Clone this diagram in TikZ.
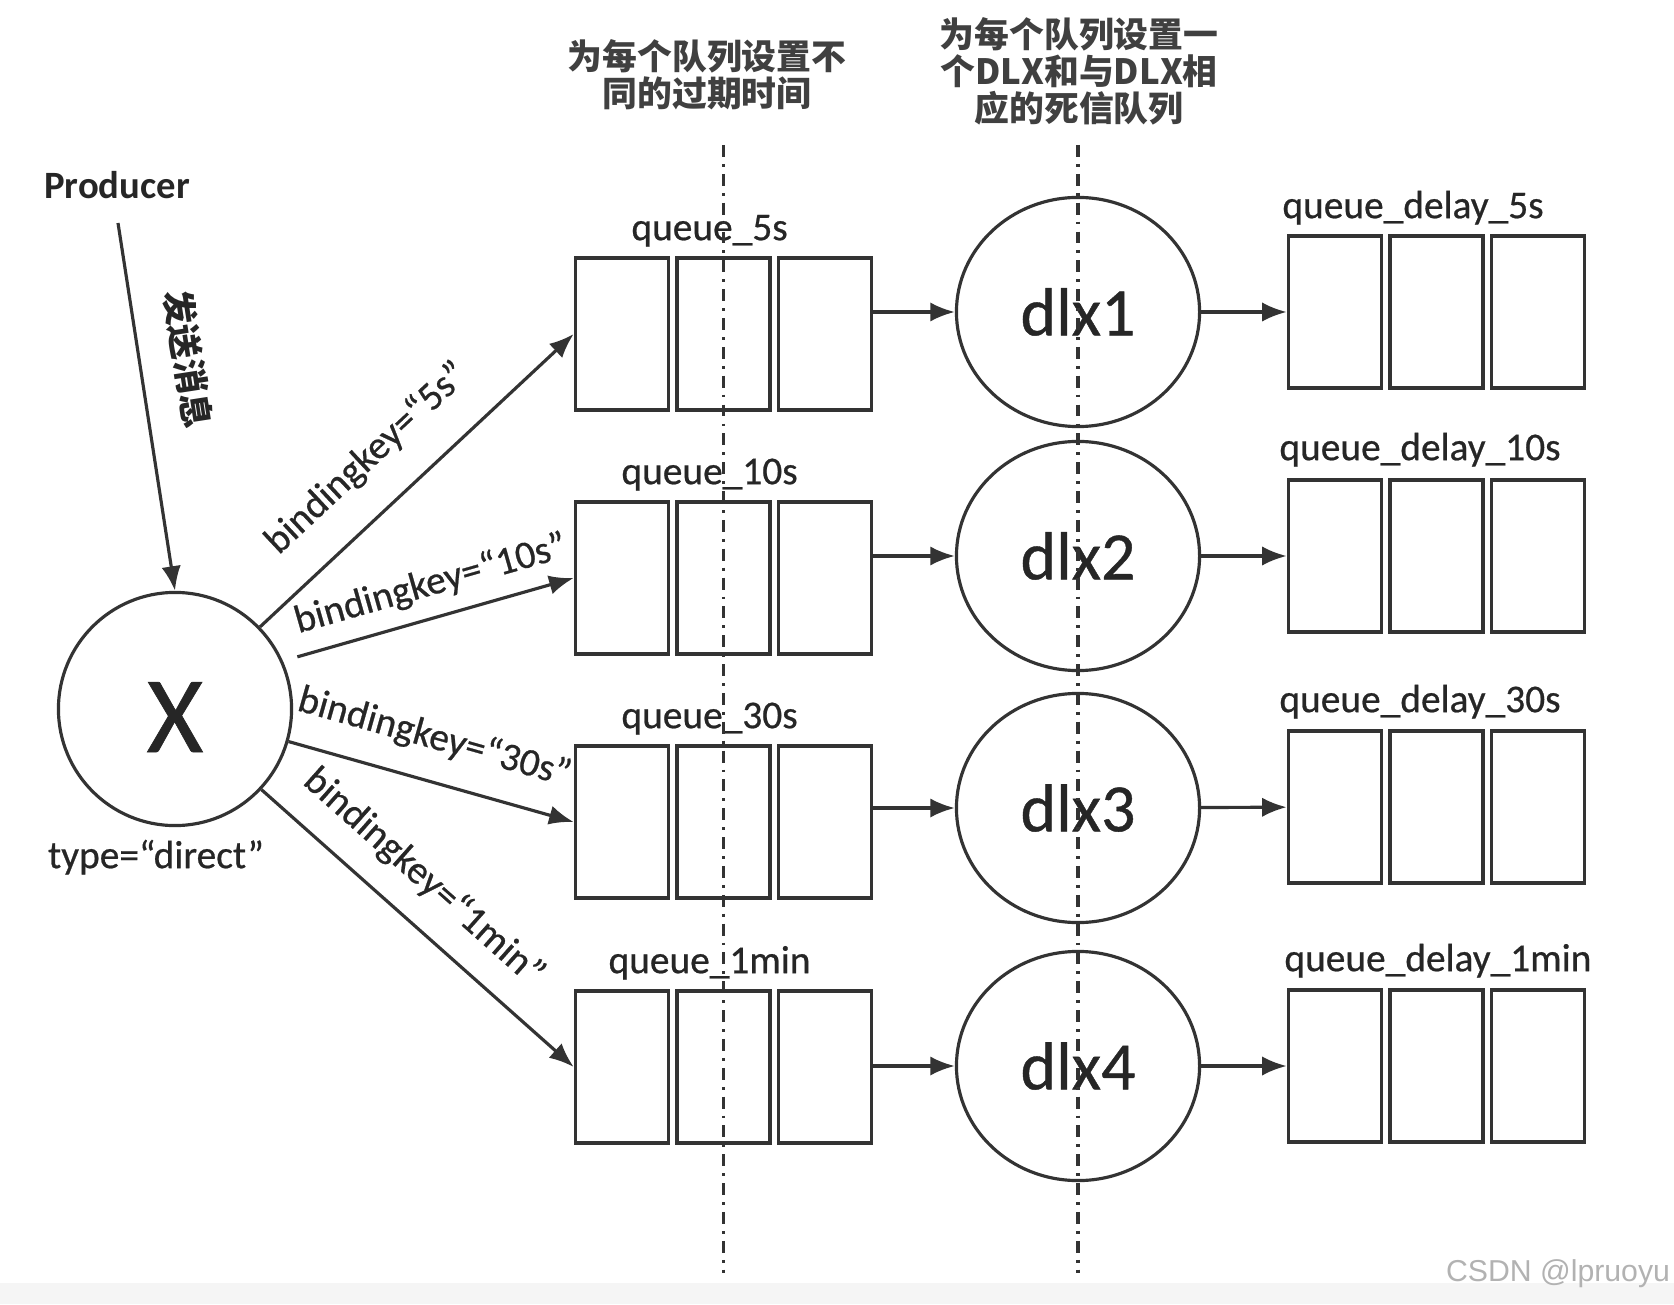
\documentclass[tikz,border=0pt]{standalone}
\usepackage{fontspec}
\setmainfont{Carlito}[UprightFeatures={FakeBold=0.6}]
\newfontfamily\cjk{Noto Sans CJK SC}
\newfontfamily\markfont{Liberation Sans}
\usetikzlibrary{positioning,shapes.geometric,arrows.meta}

\tikzset{
  cell/.style={draw=black!80, line width=1pt, minimum width=0.93cm, minimum height=1.52cm, inner sep=0pt},
  exch/.style={draw=black!80, line width=0.9pt, ellipse, minimum width=2.43cm, minimum height=2.29cm, inner sep=0pt, font=\fontsize{19.3}{22}\selectfont, text=black!85},
  arr/.style={draw=black!80, line width=0.9pt, -{Latex[length=7pt,width=5.5pt]}},
  bind/.style={sloped, inner sep=0pt, font=\fontsize{11.2}{13}\selectfont, text=black!85},
  qname/.style={inner sep=0pt, font=\fontsize{11.2}{13}\selectfont, text=black!85},
  note/.style={align=center, inner sep=0pt, font=\cjk\bfseries\fontsize{9.9}{10.5}\selectfont, text=black!75},
  sepline/.style={draw=black!80, line width=0.9pt, dash pattern=on 3.4pt off 2pt on 0.8pt off 2pt},
}

\begin{document}
\begin{tikzpicture}[x=0.01cm, y=-0.01cm]
  % Page of the same size as the screenshot
  \useasboundingbox (0,0) rectangle (1674,1304);
  \fill[black!4] (0,1283) rectangle (1674,1304);

  % A queue is three cells side by side
  \def\cells#1#2{
    \node[cell] (#1a) at #2 {};
    \node[cell, right=0.05cm of #1a] (#1b) {};
    \node[cell, right=0.05cm of #1b] (#1c) {};
  }

  % Producer and the exchange X
  \node[font=\bfseries\fontsize{11}{13}\selectfont, text=black!85] (P) at (117,185) {Producer};
  \coordinate (src) at (118,223);
  \node[draw=black!80, line width=0.9pt, circle, minimum size=2.33cm, inner sep=0pt,
        font=\fontsize{31}{36}\selectfont, text=black!85] (X) at (175,709) {\smash{\raisebox{-0.43cm}{X}}};
  \node[qname, below=0.41cm of X, anchor=base, xshift=-0.19cm] (type) {type=“direct”};
  \draw[arr] (src) -- node[bind, font=\cjk\bfseries\fontsize{9.9}{11}\selectfont, pos=0.39, above=0.3cm] {发送消息} (X.north);

  % Queues with different expiry
  \cells{q1}{(622,334)}
  \cells{q2}{(622,578)}
  \cells{q3}{(622,822)}
  \cells{q4}{(622,1067)}
  \node[qname, above=0.16cm of q1b, anchor=base, xshift=-0.14cm] (n1) {queue\_5s};
  \node[qname, above=0.16cm of q2b, anchor=base, xshift=-0.14cm] (n2) {queue\_10s};
  \node[qname, above=0.16cm of q3b, anchor=base, xshift=-0.14cm] (n3) {queue\_30s};
  \node[qname, above=0.16cm of q4b, anchor=base, xshift=-0.14cm] (n4) {queue\_1min};

  % Dead letter exchanges
  \node[exch] (d1) at (1078,312) {dlx1};
  \node[exch] (d2) at (1078,556) {dlx2};
  \node[exch] (d3) at (1078,808) {dlx3};
  \node[exch] (d4) at (1078,1066) {dlx4};

  % Dead letter queues
  \cells{r1}{(1335,312)}
  \cells{r2}{(1335,556)}
  \cells{r3}{(1335,807)}
  \cells{r4}{(1335,1066)}
  \node[qname, above=0.16cm of r1a.north west, anchor=base west, xshift=-0.05cm] (m1) {queue\_delay\_5s};
  \node[qname, above=0.18cm of r2a.north west, anchor=base west, xshift=-0.08cm] (m2) {queue\_delay\_10s};
  \node[qname, above=0.17cm of r3a.north west, anchor=base west, xshift=-0.08cm] (m3) {queue\_delay\_30s};
  \node[qname, above=0.17cm of r4a.north west, anchor=base west, xshift=-0.03cm] (m4) {queue\_delay\_1min};

  % Bindings from X to the queues
  \draw[arr] (X.44) -- node[bind, pos=0.45, above=0.31cm] {bindingkey=“5s”} (q1a.west);
  \draw[arr, shorten <=0.15cm] (X.24) -- node[bind, pos=0.54, above=0.14cm] {bindingkey=“10s”} (q2a.west);
  \draw[arr] (X.-16) -- node[bind, pos=0.47, above=0.24cm] {bindingkey=“30s”} (q3a.west);
  \draw[arr] (X.-43) -- node[bind, pos=0.43, above=0.23cm] {bindingkey=“1min”} (q4a.west);

  % Queue -> DLX -> dead letter queue
  \draw[arr] (q1c.east |- d1) -- (d1);
  \draw[arr] (q2c.east |- d2) -- (d2);
  \draw[arr] (q3c.east |- d3) -- (d3);
  \draw[arr] (q4c.east |- d4) -- (d4);
  \draw[arr] (d1) -- (r1a);
  \draw[arr] (d2) -- (r2a);
  \draw[arr] (d3) -- (r3a);
  \draw[arr] (d4) -- (r4a);

  % Notes on top and the two dash-dot separators
  \node[note] (noteA) at (707,75) {为每个队列设置不\\同的过期时间};
  \node[note] (noteB) at (1079,71) {为每个队列设置一\\个DLX和与DLX相\\应的死信队列};
  \coordinate (top) at (0,145);
  \coordinate (bottom) at (0,1273);
  \draw[sepline] (q1b |- top) -- (q1b |- bottom);
  \draw[sepline] (d1 |- top) -- (d1 |- bottom);

  % Watermark
  \node[font=\markfont\fontsize{8.6}{10}\selectfont, text=black!30] (mark) at (1558,1274) {CSDN @lpruoyu};
\end{tikzpicture}
\end{document}
